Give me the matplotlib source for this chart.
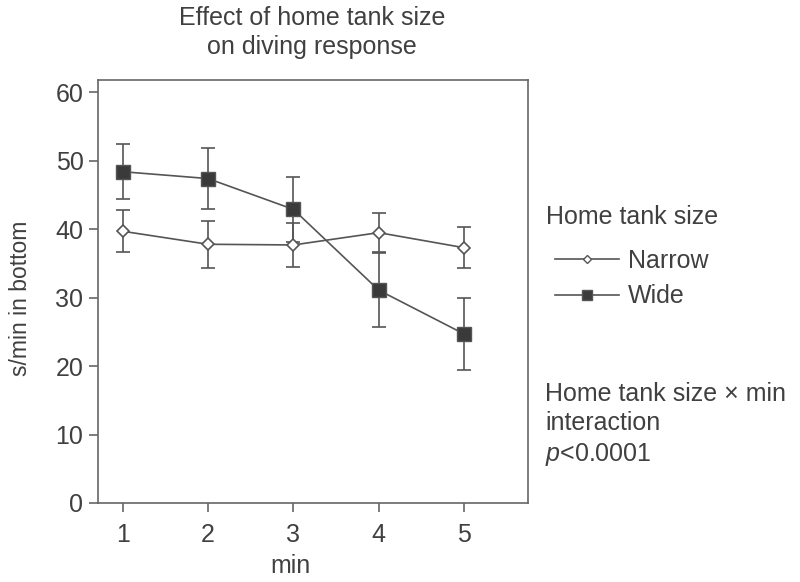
import matplotlib
matplotlib.use("Agg")
import matplotlib.pyplot as plt
from matplotlib.lines import Line2D

plt.rcParams['font.family'] = ['Liberation Sans', 'DejaVu Sans']
plt.rcParams['mathtext.fontset'] = 'custom'
plt.rcParams['mathtext.it'] = 'Liberation Sans:italic'
plt.rcParams['mathtext.rm'] = 'Liberation Sans'

minutes = [1, 2, 3, 4, 5]
narrow_mean = [39.7, 37.8, 37.7, 39.5, 37.3]
narrow_err = [3.1, 3.4, 3.2, 2.9, 3.0]
wide_mean = [48.4, 47.4, 42.9, 31.1, 24.7]
wide_err = [4.0, 4.5, 4.8, 5.4, 5.3]
yticks = [0, 10, 20, 30, 40, 50, 60]

TXT = '#404040'
LN = '#555555'
FS = 18

fig = plt.figure(figsize=(8, 5.82), dpi=100)
ax = fig.add_axes([98/800, 1-503/582, (528-98)/800, (503-80)/582])

ax.errorbar(minutes, narrow_mean, yerr=narrow_err, fmt='none', ecolor=LN,
            elinewidth=1.2, capsize=4.7, capthick=1.2, zorder=2)
ax.errorbar(minutes, wide_mean, yerr=wide_err, fmt='none', ecolor=LN,
            elinewidth=1.2, capsize=4.7, capthick=1.2, zorder=2)
ax.plot(minutes, narrow_mean, color=LN, lw=1.2, marker='D', ms=6.5,
        mfc='white', mec=LN, mew=1.2, zorder=3, label='Narrow')
ax.plot(minutes, wide_mean, color=LN, lw=1.2, marker='s', ms=10,
        mfc='#3a3a3a', mec=LN, mew=1.0, zorder=4, label='Wide')

ax.set_xlim(0.71, 5.75)
ax.set_ylim(0, 61.8)
ax.set_xticks(minutes)
ax.set_yticks(yticks)
for s in ax.spines.values():
    s.set_color('#666666')
    s.set_linewidth(1.2)
ax.tick_params(axis='both', colors='#666666', labelcolor=TXT, labelsize=FS,
               length=6.5, width=1.2)
ax.tick_params(axis='y', pad=4)
ax.tick_params(axis='x', pad=8)

fig.text(312/800, 1-32.5/582, 'Effect of home tank size\non diving response',
         ha='center', va='center', fontsize=FS, color=TXT, linespacing=1.25)
fig.text(21/800, 1-298/582, 's/min in bottom', rotation=90, ha='center',
         va='center', fontsize=16.5, color=TXT)
fig.text(290/800, 1-566/582, 'min', ha='center', va='center', fontsize=FS,
         color=TXT)

fig.text(546/800, 1-217/582, 'Home tank size', ha='left', va='center',
         fontsize=FS, color=TXT)
handles = [Line2D([], [], color=LN, lw=1.2, marker='D', ms=4.5, mfc='white', mec=LN),
           Line2D([], [], color=LN, lw=1.2, marker='s', ms=6.5, mfc='#3a3a3a', mec=LN)]
leg = fig.legend(handles, ['Narrow', 'Wide'],
                 loc='upper left', bbox_to_anchor=(555/800, 1-249/582),
                 frameon=False, fontsize=FS, borderpad=0,
                 handlelength=2.55, handletextpad=0.36, labelspacing=0.45,
                 borderaxespad=0)
for t in leg.get_texts():
    t.set_color(TXT)

fig.text(545/800, 1-425/582,
         'Home tank size \u00d7 min\ninteraction\n$\\mathit{p}$<0.0001',
         ha='left', va='center', fontsize=FS, color=TXT, linespacing=1.29)

fig.savefig('out.png', dpi=100, facecolor='white')
